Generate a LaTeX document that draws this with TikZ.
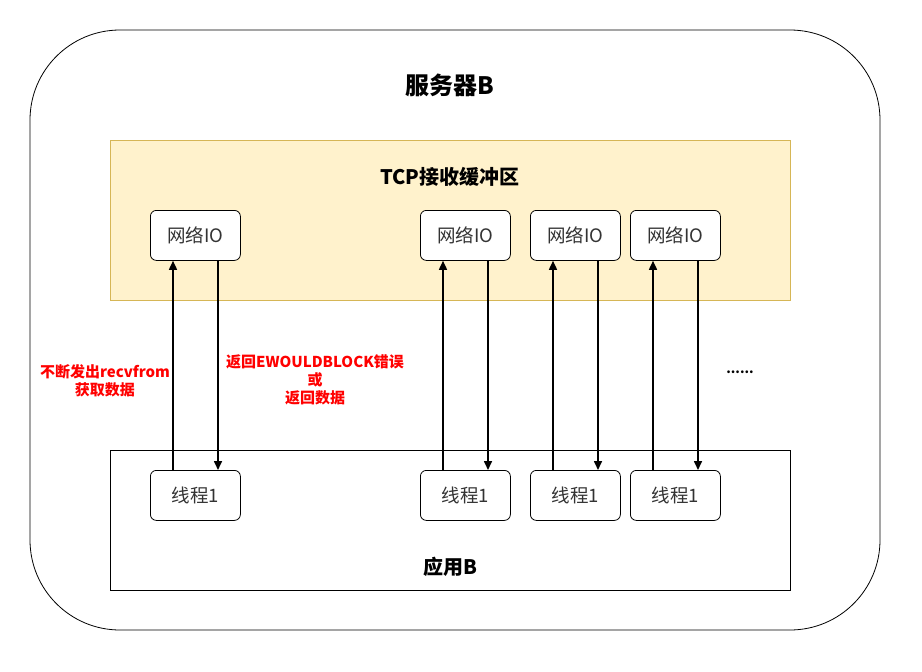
\documentclass[tikz,border=0pt]{standalone}
\usepackage{fontspec}
\setmainfont{Noto Sans CJK SC}
\usetikzlibrary{arrows.meta,calc}
\definecolor{bufFill}{HTML}{FFF2CC}
\definecolor{bufLine}{HTML}{D6B656}
\definecolor{txtGray}{HTML}{333333}
\begin{document}
\begin{tikzpicture}[x=1pt,y=-1pt,
  box/.style={draw=black,fill=white,rounded corners=6pt,minimum width=90pt,minimum height=50pt,
    anchor=north west,inner sep=0pt,text=txtGray,font=\fontsize{18.5}{20}\selectfont,line width=0.8pt},
  title/.style={font=\bfseries\fontsize{24}{26}\selectfont},
  sub/.style={font=\bfseries\fontsize{20}{22}\selectfont},
  note/.style={text=red,font=\bfseries\fontsize{15}{18}\selectfont,align=center},
  flow/.style={line width=1.6pt,-{Triangle[length=9pt,width=8pt]}}]
\useasboundingbox (0,0) rectangle (922,672);
% server frame
\draw[line width=0.8pt,rounded corners=90pt] (30,30) rectangle (880,630);
\node[title] (server) at (450,85) {服务器B};
% TCP receive buffer
\draw[bufLine,fill=bufFill,line width=0.8pt] (110,140) rectangle (790,300);
\node[sub] (buf) at (450,177) {TCP接收缓冲区};
% application
\draw[line width=0.8pt] (110,450) rectangle (790,590);
\node[sub] (app) at (450,567) {应用B};
% network IO and thread boxes
\foreach \i/\x in {1/150,2/420,3/530,4/630}{
  \node[box] (io\i) at (\x,210) {网络IO};
  \node[box] (th\i) at (\x,470) {线程1};
  \draw[flow] ($(th\i.north west)+(23,0)$) -- ($(io\i.south west)+(23,0)$);
  \draw[flow] ($(io\i.south west)+(68,0)$) -- ($(th\i.north west)+(68,0)$);
}
\node[note] (ask) at (105,381) {不断发出recvfrom\\获取数据};
\node[note] (reply) at (315,380) {返回EWOULDBLOCK错误\\或\\返回数据};
\node[font=\bfseries\fontsize{13}{15}\selectfont] (more) at (740,372) {......};
\end{tikzpicture}
\end{document}
